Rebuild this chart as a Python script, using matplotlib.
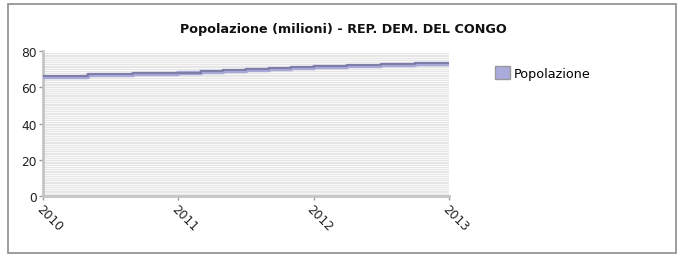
import numpy as np
import matplotlib
matplotlib.use("Agg")
import matplotlib.pyplot as plt
from matplotlib.patches import Rectangle, Patch
import matplotlib.transforms as mtransforms

# step starts (year, month) and population values (millions)
step_starts = ["2010-01", "2010-05", "2010-09", "2011-01", "2011-03", "2011-05", "2011-07",
               "2011-09", "2011-11", "2012-01", "2012-04", "2012-07", "2012-10", "2013-01"]
popolazione = [65.9, 66.5, 67.1, 67.6, 68.2, 68.8, 69.3, 69.9, 70.5, 71.1, 71.7, 72.4, 73.0]
year_ticks = [2010, 2011, 2012, 2013]
y_ticks = [0, 20, 40, 60, 80]

def to_year(s):
    y, m = s.split("-")
    return int(y) + (int(m) - 1) / 12.0

x = np.array([to_year(s) for s in step_starts])
y = np.array(popolazione + [popolazione[-1]])

fig = plt.figure(figsize=(6.79, 2.55), dpi=100)
fig.patch.set_facecolor("white")
# outer frame
fig.add_artist(Rectangle((7.5 / 679, 1.0 / 255), 668 / 679, 249.5 / 255, transform=fig.transFigure,
                         fill=False, edgecolor="#8c8c8c", linewidth=1.2))

ax = fig.add_axes([43 / 679, 58 / 255, 406 / 679, 145 / 255])
ax.set_xlim(2010, 2013)
ax.set_ylim(0, 80)

# striped background
for v in np.arange(1, 80, 1.0):
    ax.axhline(v, color="#e6e6e6", linewidth=0.9, zorder=0)

ax.step(x, y, where="post", color="#a8a8d8", linewidth=3.2, zorder=3)
shift = mtransforms.offset_copy(ax.transData, fig=fig, x=0, y=0.7, units="points")
ax.step(x, y, where="post", color="#76769c", linewidth=1.2, zorder=4, transform=shift)

for s in ["top", "right"]:
    ax.spines[s].set_visible(False)
for s in ["left", "bottom"]:
    ax.spines[s].set_color("#c4c4c4")
    ax.spines[s].set_linewidth(2)

ax.set_yticks(y_ticks)
ax.set_xticks(year_ticks)
ax.set_xticklabels([str(t) for t in year_ticks], rotation=-45, ha="left", va="top",
                   rotation_mode="anchor")
ax.tick_params(axis="both", colors="#9a9a9a", labelcolor="#222222", labelsize=8.8,
               length=3, width=1, pad=1.5)

fig.text(343 / 679, 1 - 30 / 255, "Popolazione (milioni) - REP. DEM. DEL CONGO",
         ha="center", va="center", fontsize=9.2, fontweight="bold", color="#111111")

leg = fig.legend(handles=[Patch(facecolor="#aaaadd", edgecolor="#999999", label="Popolazione")],
                 loc="center left", bbox_to_anchor=(483 / 679, 1 - 74 / 255), frameon=False,
                 fontsize=9.2, handlelength=1.2, handleheight=1.2, handletextpad=0.3)

fig.savefig("out.png", dpi=100)
